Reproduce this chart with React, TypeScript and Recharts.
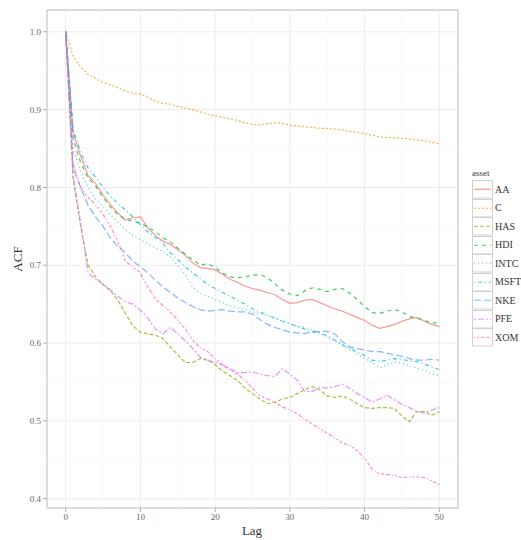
import React from 'react';
import { LineChart, Line, XAxis, YAxis, CartesianGrid, ReferenceLine, ReferenceArea, Label } from 'recharts';

const lags = Array.from({ length: 51 }, (_, i) => i);

const AA = [1.0,0.87,0.84,0.815,0.805,0.79,0.778,0.767,0.758,0.761,0.762,0.748,0.738,0.731,0.727,0.72,0.713,0.703,0.697,0.696,0.694,0.688,0.682,0.678,0.673,0.67,0.668,0.665,0.662,0.656,0.651,0.652,0.655,0.656,0.652,0.648,0.644,0.641,0.637,0.633,0.629,0.623,0.619,0.621,0.624,0.628,0.631,0.633,0.628,0.624,0.621];
const C = [1.0,0.968,0.955,0.945,0.94,0.935,0.932,0.928,0.924,0.921,0.92,0.916,0.911,0.908,0.907,0.904,0.902,0.9,0.897,0.894,0.892,0.89,0.888,0.886,0.883,0.881,0.88,0.882,0.883,0.882,0.88,0.879,0.878,0.877,0.876,0.876,0.875,0.874,0.872,0.871,0.869,0.867,0.865,0.864,0.864,0.863,0.862,0.861,0.86,0.858,0.856];
const HAS = [1.0,0.81,0.75,0.7,0.685,0.675,0.667,0.655,0.638,0.622,0.614,0.612,0.61,0.606,0.595,0.585,0.575,0.575,0.58,0.578,0.572,0.564,0.558,0.552,0.542,0.535,0.528,0.522,0.524,0.528,0.53,0.535,0.54,0.544,0.54,0.532,0.53,0.532,0.528,0.522,0.517,0.516,0.517,0.517,0.516,0.506,0.499,0.512,0.512,0.507,0.512];
const HDI = [1.0,0.862,0.832,0.812,0.802,0.787,0.775,0.765,0.759,0.757,0.754,0.749,0.743,0.735,0.73,0.722,0.714,0.707,0.7,0.702,0.697,0.69,0.685,0.684,0.685,0.687,0.688,0.684,0.676,0.668,0.663,0.661,0.667,0.671,0.669,0.666,0.669,0.67,0.664,0.656,0.647,0.639,0.638,0.641,0.643,0.64,0.634,0.632,0.629,0.626,0.626];
const INTC = [1.0,0.85,0.82,0.8,0.785,0.775,0.765,0.755,0.745,0.738,0.733,0.728,0.722,0.718,0.71,0.7,0.688,0.672,0.664,0.66,0.656,0.652,0.648,0.645,0.643,0.64,0.638,0.635,0.632,0.628,0.625,0.622,0.62,0.617,0.613,0.608,0.603,0.597,0.592,0.586,0.58,0.575,0.568,0.572,0.576,0.574,0.571,0.568,0.565,0.56,0.558];
const MSFT = [1.0,0.875,0.845,0.825,0.813,0.8,0.789,0.779,0.771,0.762,0.752,0.743,0.736,0.728,0.716,0.707,0.698,0.69,0.683,0.675,0.67,0.665,0.66,0.655,0.65,0.644,0.64,0.636,0.632,0.628,0.625,0.621,0.618,0.615,0.613,0.609,0.604,0.598,0.593,0.589,0.584,0.578,0.576,0.578,0.58,0.579,0.577,0.576,0.573,0.569,0.566];
const NKE = [1.0,0.825,0.8,0.777,0.762,0.75,0.735,0.724,0.716,0.705,0.698,0.69,0.681,0.672,0.665,0.658,0.652,0.647,0.643,0.641,0.642,0.643,0.641,0.64,0.64,0.637,0.63,0.624,0.62,0.617,0.614,0.613,0.612,0.614,0.615,0.615,0.612,0.602,0.595,0.593,0.591,0.589,0.589,0.587,0.585,0.583,0.58,0.578,0.578,0.579,0.578];
const PFE = [1.0,0.815,0.755,0.69,0.682,0.676,0.668,0.66,0.653,0.65,0.642,0.632,0.618,0.612,0.62,0.612,0.603,0.593,0.582,0.578,0.575,0.572,0.567,0.562,0.562,0.563,0.56,0.558,0.557,0.567,0.56,0.552,0.538,0.538,0.543,0.542,0.544,0.547,0.542,0.535,0.53,0.524,0.528,0.533,0.527,0.521,0.517,0.512,0.51,0.514,0.517];
const XOM = [1.0,0.83,0.8,0.787,0.778,0.765,0.75,0.73,0.705,0.698,0.69,0.672,0.657,0.648,0.64,0.63,0.618,0.604,0.594,0.589,0.58,0.572,0.565,0.56,0.552,0.542,0.532,0.528,0.524,0.518,0.514,0.509,0.502,0.496,0.49,0.484,0.478,0.472,0.468,0.462,0.452,0.438,0.432,0.431,0.43,0.427,0.428,0.428,0.427,0.423,0.418];

const assets = ['AA', 'C', 'HAS', 'HDI', 'INTC', 'MSFT', 'NKE', 'PFE', 'XOM'];
const seriesValues: Record<string, number[]> = { AA, C, HAS, HDI, INTC, MSFT, NKE, PFE, XOM };
const colors = ['#F8766D', '#DDA300', '#93AA00', '#00BA38', '#00C19F', '#00B9E3', '#619CFF', '#DB72FB', '#FF61C3'];
const dashes = ['', '2 2', '4 2', '4 4', '1 3', '1 3 4 3', '7 3', '2 2 6 2', '1 2 2 2 3 2 4 2'];

const xTicks = [0, 10, 20, 30, 40, 50];
const yTicks = [0.4, 0.5, 0.6, 0.7, 0.8, 0.9, 1.0];
const xMinor = [5, 15, 25, 35, 45];
const yMinor = [0.45, 0.55, 0.65, 0.75, 0.85, 0.95];

const data = lags.map((lag, i) => {
  const row: Record<string, number> = { lag };
  assets.forEach((a) => { row[a] = seriesValues[a][i]; });
  return row;
});

const FONT = '"Liberation Serif", "DejaVu Serif", serif';

export default function App() {
  return (
    <div style={{ position: 'absolute', left: 0, top: 0, width: 521, height: 540, background: '#fff', fontFamily: FONT }}>
      <LineChart width={521} height={540} data={data} margin={{ top: 10, right: 63, bottom: 0, left: 0 }}>
        <CartesianGrid stroke="#ececec" strokeWidth={1} />
        {xMinor.map((v) => (
          <ReferenceLine key={'xm' + v} x={v} stroke="#f6f6f6" strokeWidth={0.7} />
        ))}
        {yMinor.map((v) => (
          <ReferenceLine key={'ym' + v} y={v} stroke="#f6f6f6" strokeWidth={0.7} />
        ))}
        <XAxis
          dataKey="lag"
          type="number"
          domain={[-2.5, 52.5]}
          ticks={xTicks}
          allowDataOverflow
          height={32}
          axisLine={false}
          tickSize={4}
          tickMargin={2}
          tickLine={{ stroke: '#aaaaaa' }}
          tick={{ fill: '#666666', fontSize: 9, fontFamily: FONT }}
        >
          <Label
            content={() => (
              <text x={252} y={535} textAnchor="middle" fontSize={13} fill="#333" fontFamily={FONT}>Lag</text>
            )}
          />
        </XAxis>
        <YAxis
          type="number"
          domain={[0.388, 1.028]}
          ticks={yTicks}
          allowDataOverflow
          width={47}
          axisLine={false}
          tickSize={4}
          tickMargin={2}
          tickLine={{ stroke: '#aaaaaa' }}
          tickFormatter={(v: number) => v.toFixed(1)}
          tick={{ fill: '#666666', fontSize: 9, fontFamily: FONT }}
        >
          <Label
            content={() => (
              <text x={22} y={259} transform="rotate(-90 22 259)" textAnchor="middle" fontSize={13} fill="#333" fontFamily={FONT}>ACF</text>
            )}
          />
        </YAxis>
        <ReferenceArea x1={-2.5} x2={52.5} y1={0.388} y2={1.028} fill="none" stroke="#c4c4c4" strokeWidth={1} ifOverflow="visible" />
        {assets.map((a, i) => (
          <Line
            key={a}
            type="linear"
            dataKey={a}
            stroke={colors[i]}
            strokeWidth={1.2}
            strokeOpacity={0.75}
            strokeDasharray={dashes[i] || undefined}
            dot={false}
            activeDot={false}
            isAnimationActive={false}
          />
        ))}
      </LineChart>
      <div style={{ position: 'absolute', left: 472, top: 166, fontFamily: FONT }}>
        <div style={{ fontSize: 9, color: '#333', height: 14, lineHeight: '14px' }}>asset</div>
        {assets.map((a, i) => (
          <div key={a} style={{ display: 'flex', alignItems: 'center', height: 18.5 }}>
            <svg width={21} height={18.5} style={{ display: 'block' }}>
              <rect x={0.5} y={0.5} width={20} height={17.5} fill="#fff" stroke="#d0d0d0" strokeWidth={1} />
              <line x1={2} x2={19} y1={9.25} y2={9.25} stroke={colors[i]} strokeWidth={1.2} strokeOpacity={0.75} strokeDasharray={dashes[i] || undefined} />
            </svg>
            <span style={{ fontSize: 10, color: '#333', marginLeft: 2, whiteSpace: 'nowrap' }}>{a}</span>
          </div>
        ))}
      </div>
    </div>
  );
}
